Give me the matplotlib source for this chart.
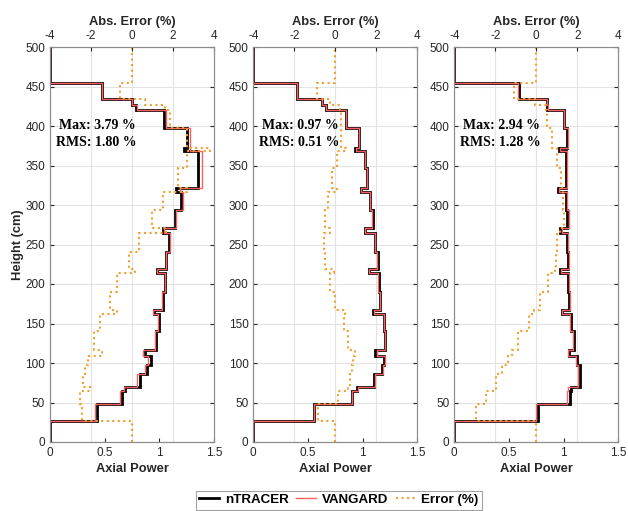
import matplotlib.pyplot as plt
from matplotlib.lines import Line2D

# axial mesh (cm), shared by the three cases
edges = [0, 27, 48, 64, 69, 86, 97.5, 109, 116.5, 140, 162, 167, 190, 213.5, 219,
         241, 265, 270.5, 294, 317, 322, 347, 368, 372, 397, 420, 427, 434, 455, 500]

# case 1
ntracer_1 = [0, 0.426, 0.66, 0.69, 0.82, 0.89, 0.92, 0.868, 0.974, 1.0, 0.95, 1.035, 1.056, 0.98,
             1.065, 1.09, 1.03, 1.14, 1.2, 1.157, 1.355, 1.35, 1.23, 1.25, 1.04, 0.785, 0.746, 0.48, 0]
vangard_1 = [0, 0.416, 0.643, 0.676, 0.800, 0.870, 0.900, 0.855, 0.956, 0.984, 0.943, 1.024, 1.048, 0.981,
             1.063, 1.094, 1.047, 1.151, 1.218, 1.188, 1.386, 1.386, 1.277, 1.283, 1.059, 0.798, 0.751, 0.477, 0]
error_1 = [0, -2.45, -2.54, -2.05, -2.4, -2.3, -2.13, -1.48, -1.85, -1.56, -0.75, -1.07, -0.72, 0.15,
           -0.15, 0.36, 1.66, 0.96, 1.5, 2.7, 2.26, 2.69, 3.79, 2.67, 1.85, 1.6, 0.63, -0.6, 0]

# case 2
ntracer_2 = [0, 0.557, 0.903, 0.948, 1.107, 1.178, 1.193, 1.117, 1.2, 1.193, 1.095, 1.162, 1.147, 1.055,
             1.14, 1.117, 1.025, 1.095, 1.07, 0.985, 1.04, 1.025, 0.933, 0.963, 0.85, 0.667, 0.627, 0.404, 0]
vangard_2 = [0, 0.552, 0.904, 0.954, 1.115, 1.188, 1.203, 1.128, 1.208, 1.198, 1.100, 1.162, 1.144, 1.054,
             1.134, 1.111, 1.022, 1.090, 1.066, 0.986, 1.038, 1.026, 0.938, 0.966, 0.852, 0.669, 0.625, 0.400, 0]
error_2 = [0, -0.82, 0.13, 0.63, 0.74, 0.82, 0.86, 0.97, 0.64, 0.4, 0.49, 0.0, -0.25, -0.08,
           -0.49, -0.57, -0.25, -0.49, -0.38, 0.08, -0.16, 0.08, 0.54, 0.3, 0.28, 0.25, -0.25, -0.87, 0]

# case 3
ntracer_3 = [0, 0.769, 1.059, 1.065, 1.15, 1.15, 1.125, 1.05, 1.095, 1.065, 0.988, 1.052, 1.043, 0.97,
             1.04, 1.03, 0.97, 1.035, 1.02, 0.95, 1.02, 1.02, 0.96, 1.03, 1.0, 0.85, 0.85, 0.592, 0]
vangard_3 = [0, 0.746, 1.033, 1.044, 1.127, 1.131, 1.110, 1.037, 1.085, 1.061, 0.987, 1.054, 1.049, 0.979,
             1.050, 1.041, 0.981, 1.049, 1.033, 0.962, 1.032, 1.030, 0.970, 1.038, 1.005, 0.854, 0.849, 0.586, 0]
error_3 = [0, -2.94, -2.45, -1.97, -1.97, -1.69, -1.37, -1.2, -0.88, -0.34, -0.1, 0.18, 0.59, 0.9,
           0.96, 1.02, 1.16, 1.35, 1.32, 1.3, 1.22, 1.02, 1.0, 0.75, 0.5, 0.45, -0.06, -1.09, 0]

max_err = ['3.79', '0.97', '2.94']
rms_err = ['1.80', '0.51', '1.28']

cases = [(ntracer_1, vangard_1, error_1), (ntracer_2, vangard_2, error_2), (ntracer_3, vangard_3, error_3)]

plt.rcParams['font.family'] = 'Liberation Sans'
plt.rcParams['axes.unicode_minus'] = False
txt_col = '#262626'
box_col = '#8c8c8c'
err_col = '#F0A030'

fig = plt.figure(figsize=(6.28, 5.11), dpi=100)
lefts = [50 / 628, 253.3 / 628, 454.3 / 628]

for i, (ntr, vng, err) in enumerate(cases):
    ax = fig.add_axes([lefts[i], 1 - 442 / 511, 164 / 628, 395 / 511])
    ax.stairs(ntr, edges, orientation='horizontal', baseline=None, color='black', lw=2.0, zorder=3)
    ax.stairs(vng, edges, orientation='horizontal', baseline=None, color='#ff6060', lw=1.0, zorder=4)
    ax.set_xlim(0, 1.5)
    ax.set_ylim(0, 500)
    ax.set_xticks([0, 0.5, 1, 1.5], ['0', '0.5', '1', '1.5'])
    ax.set_yticks(range(0, 501, 50))
    # vertical grid follows the error axis (-2, 0, 2)
    ax.set_xticks([0.375, 0.75, 1.125], minor=True)
    ax.grid(axis='y', color='#e3e3e3', lw=0.8)
    ax.grid(axis='x', which='minor', color='#e3e3e3', lw=0.8)
    ax.tick_params(which='minor', length=0)
    ax.tick_params(direction='in', length=3, right=True, labelsize=8.5, colors=txt_col)
    ax.set_xlabel('Axial Power', fontsize=9.3, fontweight='bold', color=txt_col, labelpad=3)
    if i == 0:
        ax.set_ylabel('Height (cm)', fontsize=9.3, fontweight='bold', color=txt_col, labelpad=1)
    ax.text(0.43, 401, 'Max: ' + max_err[i] + ' %', family='Liberation Serif', fontweight='bold',
            fontsize=10, ha='center', va='center', zorder=6)
    ax.text(0.42, 379, 'RMS: ' + rms_err[i] + ' %', family='Liberation Serif', fontweight='bold',
            fontsize=10, ha='center', va='center', zorder=6)

    ax2 = ax.twiny()
    ax2.stairs(err, edges, orientation='horizontal', baseline=None, color=err_col, lw=1.5, ls=':')
    ax2.set_xlim(-4, 4)
    ax2.set_xticks([-4, -2, 0, 2, 4])
    ax2.tick_params(direction='in', length=3, labelsize=8.5, colors=txt_col)
    ax2.set_xlabel('Abs. Error (%)', fontsize=9.3, fontweight='bold', color=txt_col, labelpad=4)
    for a in (ax, ax2):
        for s in a.spines.values():
            s.set_color(box_col)
            s.set_linewidth(0.8)

handles = [Line2D([], [], color='black', lw=2.0),
           Line2D([], [], color='#ff6060', lw=1.0),
           Line2D([], [], color=err_col, lw=1.5, ls=':')]
leg = fig.legend(handles, ['nTRACER', 'VANGARD', 'Error (%)'], loc='center',
                 bbox_to_anchor=(339 / 628, 1 - 500 / 511), ncol=3, fancybox=False,
                 edgecolor=box_col, handlelength=1.5, handletextpad=0.4, columnspacing=0.6,
                 borderpad=0.25, prop={'weight': 'bold', 'size': 9.6})
leg.get_frame().set_linewidth(0.8)

plt.savefig('out.png', dpi=100)
